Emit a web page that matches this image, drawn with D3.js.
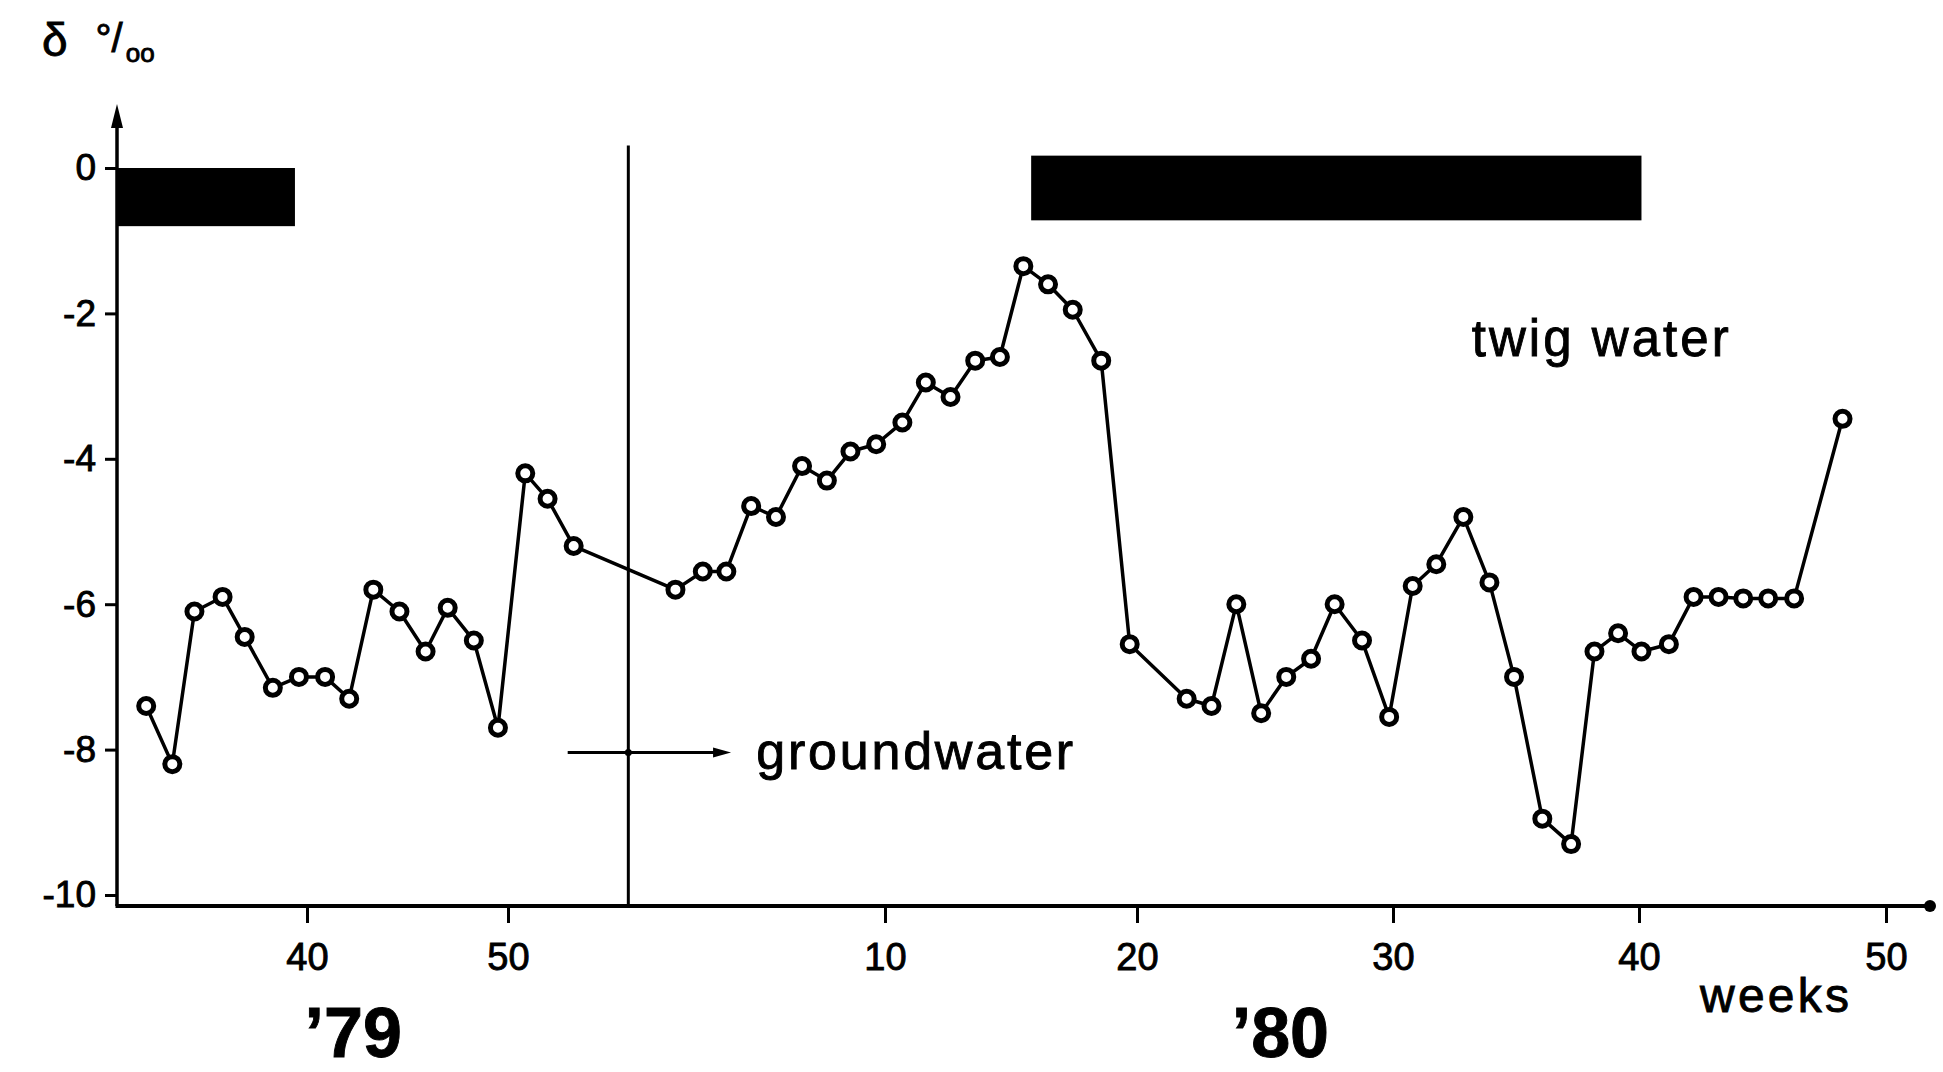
<!DOCTYPE html>
<html><head><meta charset="utf-8">
<script src="https://cdn.jsdelivr.net/npm/d3@7"></script>
<style>
body{margin:0;background:#fff}
svg{display:block}
text{font-family:"Liberation Sans",Arial,Helvetica,sans-serif;fill:#000;stroke:#000;stroke-width:0.9px}
</style>
</head><body>
<svg id="c" width="1943" height="1072"></svg>
<script>
// ---- data (week index: '79 weeks as is, '80 weeks as 52 + week) ----
const weeks = [32.0,33.3,34.4,35.8,36.9,38.3,39.6,40.9,42.1,43.3,44.6,45.9,47.0,48.3,49.5,
  50.55,51.26,52.09,55.33,56.2,56.95,57.74,58.53,59.36,60.15,60.9,61.72,62.69,63.62,64.6,
  65.58,66.56,67.49,68.47,69.45,70.58,71.71,73.94,74.91,75.88,76.85,77.83,78.8,79.72,80.79,
  81.85,82.8,83.76,84.86,85.92,86.92,88.07,89.24,90.19,91.15,92.1,93.21,94.21,95.22,96.22,
  97.23,98.28,100.24];
const delta = [-7.4,-8.2,-6.1,-5.9,-6.45,-7.15,-7.0,-7.0,-7.3,-5.8,-6.1,-6.65,-6.05,-6.5,-7.7,
  -4.2,-4.55,-5.2,-5.8,-5.55,-5.55,-4.65,-4.8,-4.1,-4.3,-3.9,-3.8,-3.5,-2.95,-3.15,
  -2.65,-2.6,-1.35,-1.6,-1.95,-2.65,-6.55,-7.3,-7.4,-6.0,-7.5,-7.0,-6.75,-6.0,-6.5,
  -7.55,-5.75,-5.45,-4.8,-5.7,-7.0,-8.95,-9.3,-6.65,-6.4,-6.65,-6.55,-5.9,-5.9,-5.92,
  -5.92,-5.92,-3.45];
const xTicks = [40,50,62,72,82,92,102];
const xTickLabels = ["40","50","10","20","30","40","50"];
const yTicks = [0,-2,-4,-6,-8,-10];
const yTickLabels = ["0","-2","-4","-6","-8","-10"];
const barStart = [30.5, 67.8];
const barEnd = [39.4, 92.1];
const barTop = [0, 0.17];
const barBottom = [-0.8, -0.72];
const groundwaterWeek = 53.83;
const groundwaterDelta = -8.04;
const yearLabels = ["\u201979", "\u201980"];
const yearWeek = [42.3, 77.6];

// ---- layout ----
const svg = d3.select("#c");
const AX_X = 117, AX_Y = 906, AX_TOP = 104, AX_RIGHT = 1930;
const x = d3.scaleLinear().domain(xTicks).range([307,508,885,1137,1393,1639,1886]);
const y = d3.scaleLinear().domain([0,-10]).range([168,895]);

// growth-period bars
svg.append("g").selectAll("rect").data(barStart).join("rect")
  .attr("x", (d,i)=>x(d)).attr("width",(d,i)=>x(barEnd[i])-x(d))
  .attr("y",(d,i)=>y(barTop[i])).attr("height",(d,i)=>y(barBottom[i])-y(barTop[i]))
  .attr("fill","#000");

// axes lines
svg.append("line").attr("x1",AX_X).attr("x2",AX_X).attr("y1",AX_Y).attr("y2",AX_TOP+14)
  .attr("stroke","#000").attr("stroke-width",3.5);
svg.append("path").attr("d",`M${AX_X},${AX_TOP} L${AX_X-6},${AX_TOP+24} L${AX_X+6},${AX_TOP+24} Z`).attr("fill","#000");
svg.append("line").attr("x1",AX_X-1.5).attr("x2",AX_RIGHT).attr("y1",AX_Y).attr("y2",AX_Y)
  .attr("stroke","#000").attr("stroke-width",4);
svg.append("circle").attr("cx",AX_RIGHT).attr("cy",AX_Y).attr("r",6).attr("fill","#000");

// x axis ticks
const gx = svg.append("g").attr("transform",`translate(0,${AX_Y})`)
  .call(d3.axisBottom(x).tickValues(xTicks).tickFormat((d,i)=>xTickLabels[i]).tickSize(17).tickPadding(20).tickSizeOuter(0));
gx.select(".domain").remove();
gx.selectAll(".tick line").attr("stroke","#000").attr("stroke-width",3);
gx.selectAll(".tick text").style("font-size","38px").attr("fill","#000");

// y axis ticks
const gy = svg.append("g").attr("transform",`translate(${AX_X},0)`)
  .call(d3.axisLeft(y).tickValues(yTicks).tickFormat((d,i)=>yTickLabels[i]).tickSize(12).tickPadding(9).tickSizeOuter(0));
gy.select(".domain").remove();
gy.selectAll(".tick line").attr("stroke","#000").attr("stroke-width",3);
gy.selectAll(".tick text").style("font-size","37px").attr("fill","#000");

// groundwater vertical line + arrow
svg.append("line").attr("x1",x(groundwaterWeek)).attr("x2",x(groundwaterWeek))
  .attr("y1",y(0.31)).attr("y2",AX_Y).attr("stroke","#000").attr("stroke-width",3);
const ax1 = x(51.9), ax2 = x(57.1), ay = y(groundwaterDelta);
svg.append("line").attr("x1",ax1).attr("x2",ax2-12).attr("y1",ay).attr("y2",ay)
  .attr("stroke","#000").attr("stroke-width",3);
svg.append("path").attr("d",`M${ax2},${ay} L${ax2-18},${ay-5} L${ax2-18},${ay+5} Z`).attr("fill","#000");
svg.append("circle").attr("cx",x(groundwaterWeek)).attr("cy",ay).attr("r",3.5).attr("fill","#000");
svg.append("text").attr("x",x(57.9)).attr("y",ay+16).attr("textLength",317)
  .style("font-size","52px").text("groundwater");

// data line
const line = d3.line().x((d,i)=>x(weeks[i])).y(d=>y(d));
svg.append("path").datum(delta).attr("d",line).attr("fill","none")
  .attr("stroke","#000").attr("stroke-width",3.5).attr("stroke-linejoin","round");
svg.append("g").selectAll("circle").data(delta).join("circle")
  .attr("cx",(d,i)=>x(weeks[i])).attr("cy",d=>y(d)).attr("r",7.5)
  .attr("fill","#fff").attr("stroke","#000").attr("stroke-width",5);

// labels
svg.append("text").attr("x",x(85.2)).attr("y",y(-2.58)).attr("textLength",257)
  .style("font-size","51px").text("twig water");
svg.append("text").attr("x",1700).attr("y",1012).attr("textLength",149)
  .style("font-size","48px").text("weeks");
svg.append("g").selectAll("text").data(yearLabels).join("text")
  .attr("x",(d,i)=>x(yearWeek[i])).attr("y",1057).attr("text-anchor","middle")
  .style("font-size","70px").style("font-weight","bold").text(d=>d);

// y unit label
const u = svg.append("text").attr("x",42).attr("y",56).style("font-size","46px");
u.append("tspan").text("\u03b4");
u.append("tspan").attr("dx",28).attr("dy",-4).style("font-size","40px").text("\u00b0/");
u.append("tspan").attr("dx",3).attr("dy",10).style("font-size","26px").text("oo");
</script>
</body></html>
